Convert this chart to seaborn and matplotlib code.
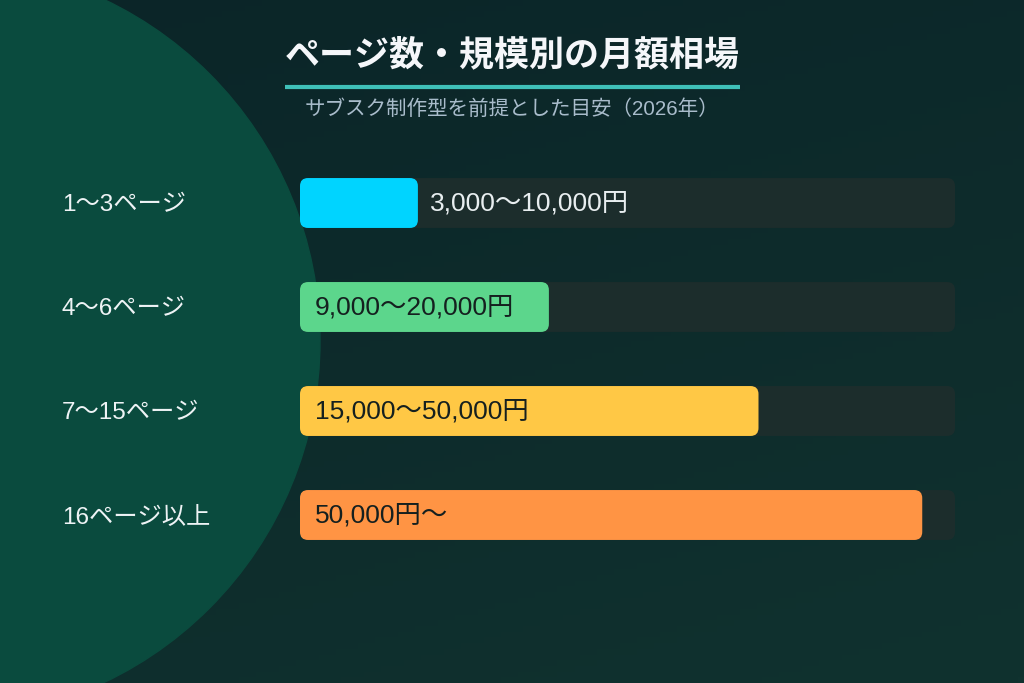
import numpy as np
import pandas as pd
import matplotlib
matplotlib.use("Agg")
import matplotlib.pyplot as plt
import seaborn as sns
from matplotlib.patches import FancyBboxPatch, Circle
from matplotlib.transforms import blended_transform_factory
from matplotlib.colors import to_rgb

categories = ["1〜3ページ", "4〜6ページ", "7〜15ページ", "16ページ以上"]
values = [18, 38, 70, 95]
track = [100, 100, 100, 100]
value_labels = ["3,000〜10,000円", "9,000〜20,000円", "15,000〜50,000円", "50,000円〜"]
colors = ["#00d4ff", "#5cd68c", "#ffc845", "#ff9444"]
title = "ページ数・規模別の月額相場"
subtitle = "サブスク制作型を前提とした目安（2026年）"

sns.set_theme(style="white")
FONTS = ['Liberation Sans', 'Noto Sans CJK JP', 'DejaVu Sans']
plt.rcParams['font.family'] = FONTS

W, H = 1024, 683
fig = plt.figure(figsize=(W / 100, H / 100), dpi=100)

# background with gradient and big circle
bg = fig.add_axes([0, 0, 1, 1])
bg.set_xlim(0, W)
bg.set_ylim(H, 0)
bg.axis('off')
c0 = np.array(to_rgb("#0b2528"))
c1 = np.array(to_rgb("#10322f"))
yy, xx = np.mgrid[0:1:120j, 0:1:180j]
t = (0.7 * yy + 0.3 * xx)[..., None]
grad = c0 * (1 - t) + c1 * t
bg.imshow(grad, extent=[0, W, H, 0], aspect='auto', zorder=0)
bg.add_patch(Circle((-58, 341), 378, color='#0a4b3e', zorder=1))
bg.plot([285, 740], [87, 87], color='#3fc0b8', lw=3, solid_capstyle='butt', zorder=2)

# main bars axes
ax = fig.add_axes([300 / W, 1 - 567 / H, 655 / W, 416 / H])
ax.patch.set_alpha(0)
df = pd.DataFrame({"cat": categories, "value": values, "track": track})
sns.barplot(data=df, y="cat", x="track", color="#1c2d2c", width=0.48, ax=ax,
            saturation=1)
sns.barplot(data=df, y="cat", x="value", hue="cat", palette=colors, width=0.48,
            ax=ax, legend=False, saturation=1)
ax.set_xlim(0, 100)
ax.set_ylim(3.5, -0.5)
ax.set_axis_off()

r = 8 / 6.55
asp = 6.55 / 104
for p in list(ax.patches):
    x, y = p.get_xy()
    w, h = p.get_width(), p.get_height()
    fc = p.get_facecolor()
    p.remove()
    ax.add_patch(FancyBboxPatch((x, y), w, h,
                                boxstyle=f"round,pad=0,rounding_size={r}",
                                mutation_aspect=asp, fc=fc, ec='none'))

trans = blended_transform_factory(fig.transFigure, ax.transData)
for i, cat in enumerate(categories):
    ax.text(62 / W, i + 8.5 / 104, cat, transform=trans, ha='left', va='baseline',
            fontsize=17.5, color='#eef3f5')
    if values[i] < 25:
        ax.text(values[i] + 1.9, i + 7.5 / 104, value_labels[i], ha='left',
                va='baseline', fontsize=19, color='#e8eef0')
    else:
        ax.text(2.3, i + 7.5 / 104, value_labels[i], ha='left', va='baseline',
                fontsize=19, color='#15201f')

fig.text(285 / W, 1 - 55 / H, title, fontsize=25.2, weight='bold', color='#f5f7fa',
         va='center', ha='left', family=['Noto Sans CJK JP', 'DejaVu Sans'])
fig.text(305 / W, 1 - 115 / H, subtitle, fontsize=14.8, color='#a9bccb',
         va='baseline', ha='left')

fig.savefig('out.png', dpi=100)
